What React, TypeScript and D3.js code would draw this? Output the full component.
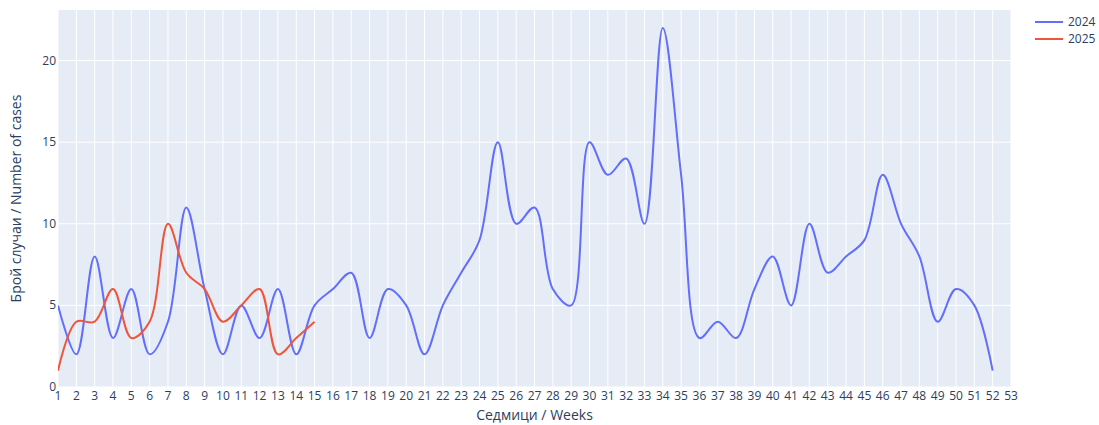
import React from "react";
import * as d3 from "d3";

const weeks2024 = [
  1, 2, 3, 4, 5, 6, 7, 8, 9, 10, 11, 12, 13, 14, 15, 16, 17, 18, 19, 20, 21, 22, 23, 24, 25, 26,
  27, 28, 29, 30, 31, 32, 33, 34, 35, 36, 37, 38, 39, 40, 41, 42, 43, 44, 45, 46, 47, 48, 49, 50,
  51, 52,
];
const cases2024 = [
  5, 2, 8, 3, 6, 2, 4, 11, 6, 2, 5, 3, 6, 2, 5, 6, 7, 3, 6, 5, 2, 5, 7, 9, 15, 10, 11, 6, 5, 15,
  13, 14, 10, 22, 13, 3, 4, 3, 6, 8, 5, 10, 7, 8, 9, 13, 10, 8, 4, 6, 5, 1,
];
const weeks2025 = [1, 2, 3, 4, 5, 6, 7, 8, 9, 10, 11, 12, 13, 14, 15];
const cases2025 = [1, 4, 4, 6, 3, 4, 10, 7, 6, 4, 5, 6, 2, 3, 4];

const xTicks = d3.range(1, 54);
const yTicks = [0, 5, 10, 15, 20];

const W = 1099;
const H = 425;
const M = { left: 58, right: 1011, top: 10, bottom: 387 };
const FONT = '"Open Sans", verdana, arial, sans-serif';
const TEXT = "#2a3f5f";

const series = [
  { name: "2024", color: "#636efa", weeks: weeks2024, values: cases2024 },
  { name: "2025", color: "#EF553B", weeks: weeks2025, values: cases2025 },
];

export default function App() {
  const x = d3.scaleLinear().domain([1, 53]).range([M.left, M.right]);
  const y = d3.scaleLinear().domain([0, 23.1]).range([M.bottom, M.top]);

  const line = d3
    .line<[number, number]>()
    .x((d) => x(d[0]))
    .y((d) => y(d[1]))
    .curve(d3.curveCatmullRom.alpha(0.5));

  return (
    <svg
      width={W}
      height={H}
      style={{ position: "absolute", left: 0, top: 0, background: "#fff" }}
      fontFamily={FONT}
    >
      <rect x={M.left} y={M.top} width={M.right - M.left} height={M.bottom - M.top} fill="#E5ECF6" />
      {xTicks.map((t) => (
        <line key={"gx" + t} x1={x(t)} x2={x(t)} y1={M.top} y2={M.bottom} stroke="#fff" strokeWidth={1} />
      ))}
      {yTicks.map((t) => (
        <line key={"gy" + t} x1={M.left} x2={M.right} y1={y(t)} y2={y(t)} stroke="#fff" strokeWidth={1} />
      ))}

      <clipPath id="plotClip">
        <rect x={M.left} y={M.top} width={M.right - M.left} height={M.bottom - M.top} />
      </clipPath>
      <g clipPath="url(#plotClip)">
        {series.map((s) => (
          <path
            key={s.name}
            d={line(s.weeks.map((w, i) => [w, s.values[i]] as [number, number])) || ""}
            fill="none"
            stroke={s.color}
            strokeWidth={2}
            strokeLinejoin="round"
          />
        ))}
      </g>

      {xTicks.map((t) => (
        <text key={"tx" + t} x={x(t)} y={M.bottom + 13} fontSize={12} fill={TEXT} textAnchor="middle">
          {t}
        </text>
      ))}
      {yTicks.map((t) => (
        <text key={"ty" + t} x={M.left - 2} y={y(t) + 4} fontSize={12} fill={TEXT} textAnchor="end">
          {t}
        </text>
      ))}

      <text x={(M.left + M.right) / 2} y={420} fontSize={14} fill={TEXT} textAnchor="middle">
        Седмици / Weeks
      </text>
      <text
        transform={`translate(21,${(M.top + M.bottom) / 2}) rotate(-90)`}
        fontSize={14}
        fill={TEXT}
        textAnchor="middle"
      >
        Брой случаи / Number of cases
      </text>

      {series.map((s, i) => (
        <g key={"lg" + s.name} transform={`translate(1035,${22 + i * 17})`}>
          <line x1={0} x2={28} y1={0} y2={0} stroke={s.color} strokeWidth={2} />
          <text x={33} y={4} fontSize={12} fill={TEXT}>
            {s.name}
          </text>
        </g>
      ))}
    </svg>
  );
}
